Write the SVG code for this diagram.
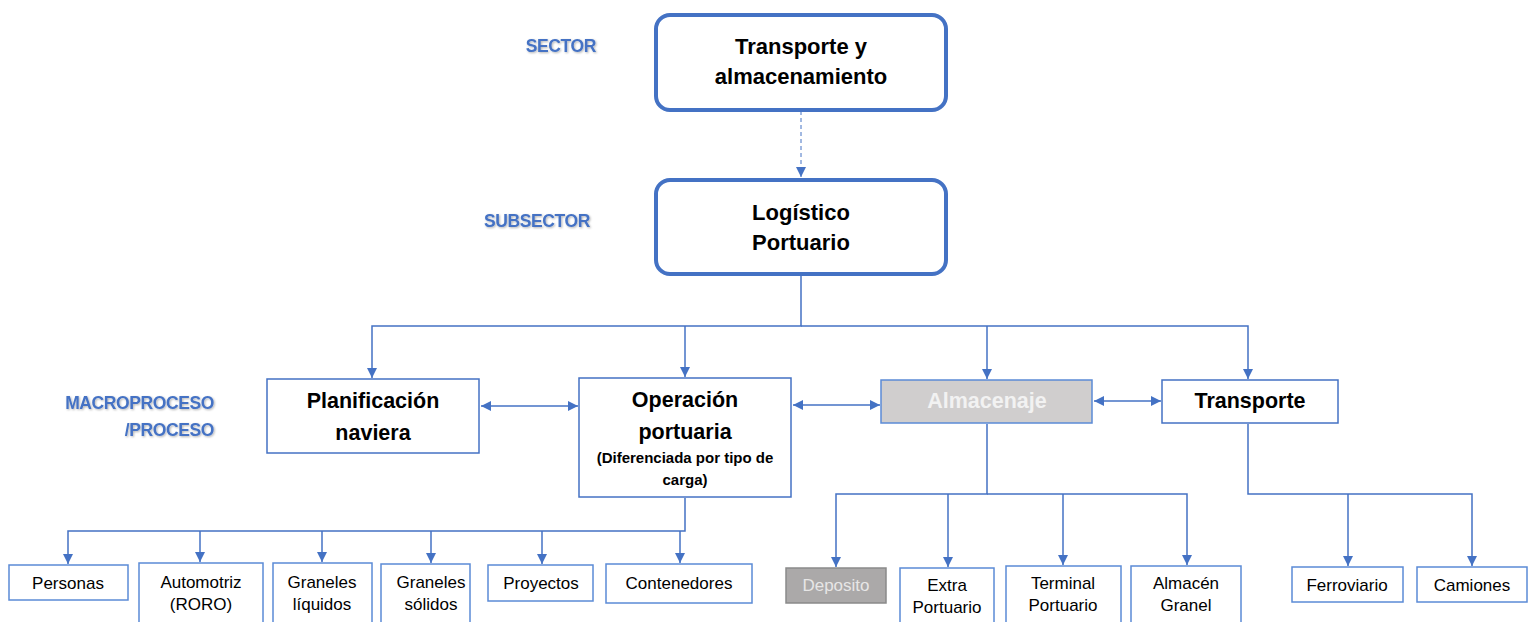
<svg xmlns="http://www.w3.org/2000/svg" width="1536" height="622" viewBox="0 0 1536 622">
<defs>
<marker id="arr" viewBox="0 0 10 10" refX="10" refY="5" markerWidth="10" markerHeight="10" markerUnits="userSpaceOnUse" orient="auto-start-reverse"><path d="M0,0 L10,5 L0,10 z" fill="#4472C4"/></marker>
<filter id="sh" x="-10%" y="-30%" width="130%" height="170%"><feDropShadow dx="1" dy="1" stdDeviation="0.8" flood-color="#000" flood-opacity="0.3"/></filter>
</defs>
<style>
.big{fill:#fff;stroke:#4472C4;stroke-width:4}
.box{fill:#fff;stroke:#4472C4;stroke-width:1.5}
.sbox{fill:#fff;stroke:#5B8BD6;stroke-width:1.5}
.t{font-family:"Liberation Sans",Arial,sans-serif;text-anchor:middle;dominant-baseline:central;fill:#000}
.b{font-weight:bold}
.h{font-size:22px}
.m{font-size:21.5px}
.s{font-size:15px}
.r{font-size:17px}
.lab{font-family:"Liberation Sans",Arial,sans-serif;font-weight:bold;font-size:17.5px;fill:#4472C4;text-anchor:end;dominant-baseline:central;letter-spacing:-0.4px;filter:url(#sh)}
.c{fill:none;stroke:#4472C4;stroke-width:1.5}
</style>
<g id="labels">
<text class="lab" x="596" y="46">SECTOR</text>
<text class="lab" x="590" y="221">SUBSECTOR</text>
<text class="lab" x="214" y="403">MACROPROCESO</text>
<text class="lab" x="214" y="430">/PROCESO</text>
</g>
<g id="connectors">
<path d="M801,111 V177" fill="none" stroke="#4472C4" stroke-width="1" stroke-dasharray="4,3" marker-end="url(#arr)"/>
<path class="c" d="M801,275 V326 H372 V378" marker-end="url(#arr)"/>
<path class="c" d="M685,326 V377" marker-end="url(#arr)"/>
<path class="c" d="M801,326 H1248 V379" marker-end="url(#arr)"/>
<path class="c" d="M987,326 V379" marker-end="url(#arr)"/>
<path class="c" d="M481,406 H578" marker-start="url(#arr)" marker-end="url(#arr)"/>
<path class="c" d="M793,405 H880" marker-start="url(#arr)" marker-end="url(#arr)"/>
<path class="c" d="M1094,401 H1161" marker-start="url(#arr)" marker-end="url(#arr)"/>
<path class="c" d="M685,498 V531 H68 V564" stroke-width="2" marker-end="url(#arr)"/>
<path class="c" d="M200,531 V562" marker-end="url(#arr)"/>
<path class="c" d="M322,531 V562" marker-end="url(#arr)"/>
<path class="c" d="M431,531 V563" marker-end="url(#arr)"/>
<path class="c" d="M542,531 V564" marker-end="url(#arr)"/>
<path class="c" d="M680,531 V563" marker-end="url(#arr)"/>
<path class="c" d="M987,424 V494 H836 V567" marker-end="url(#arr)"/>
<path class="c" d="M948,494 V567" marker-end="url(#arr)"/>
<path class="c" d="M987,494 H1187 V565" marker-end="url(#arr)"/>
<path class="c" d="M1063,494 V565" marker-end="url(#arr)"/>
<path class="c" d="M1248,424 V494 H1472 V566" marker-end="url(#arr)"/>
<path class="c" d="M1348,494 V566" marker-end="url(#arr)"/>
</g>
<g id="sector"><rect class="big" x="656" y="15" width="290" height="95" rx="14"/>
<text class="t b h" x="801" y="46">Transporte y</text><text class="t b h" x="801" y="76">almacenamiento</text></g>
<g id="subsector"><rect class="big" x="656" y="180" width="290" height="94" rx="14"/>
<text class="t b h" x="801" y="212">Logístico</text><text class="t b h" x="801" y="242">Portuario</text></g>
<g id="planificacion"><rect class="box" x="267" y="379" width="212" height="74"/>
<text class="t b m" x="373" y="401">Planificación</text><text class="t b m" x="373" y="433">naviera</text></g>
<g id="operacion"><rect class="box" x="579" y="378" width="212" height="119"/>
<text class="t b m" x="685" y="400">Operación</text><text class="t b m" x="685" y="432">portuaria</text>
<text class="t b s" x="685" y="457">(Diferenciada por tipo de</text><text class="t b s" x="685" y="479">carga)</text></g>
<g id="almacenaje"><rect x="881" y="380" width="211" height="43" fill="#D0CECE" stroke="#5B8BD6" stroke-width="1.5"/>
<text class="t b m" x="987" y="401" style="fill:#F2F2F2">Almacenaje</text></g>
<g id="transporte"><rect class="box" x="1162" y="380" width="176" height="43"/>
<text class="t b m" x="1250" y="401">Transporte</text></g>
<g id="personas"><rect class="sbox" x="9" y="565" width="119" height="35"/><text class="t r" x="68" y="583">Personas</text></g>
<g id="automotriz"><rect class="sbox" x="139" y="563" width="124" height="62"/><text class="t r" x="201" y="582">Automotriz</text><text class="t r" x="201" y="604">(RORO)</text></g>
<g id="liquidos"><rect class="sbox" x="273" y="563" width="99" height="62"/><text class="t r" x="322" y="582">Graneles</text><text class="t r" x="322" y="604">líquidos</text></g>
<g id="solidos"><rect class="sbox" x="381" y="564" width="89" height="61"/><text class="t r" x="431" y="582">Graneles</text><text class="t r" x="431" y="604">sólidos</text></g>
<g id="proyectos"><rect class="sbox" x="488" y="565" width="105" height="36"/><text class="t r" x="541" y="583">Proyectos</text></g>
<g id="contenedores"><rect class="sbox" x="606" y="564" width="146" height="39"/><text class="t r" x="679" y="583">Contenedores</text></g>
<g id="deposito"><rect x="786" y="568" width="100" height="35" fill="#ABA9A9" stroke="#8A8A8A" stroke-width="1.5"/><text class="t r" x="836" y="585" style="fill:#E7E6E6">Deposito</text></g>
<g id="extra"><rect class="sbox" x="900" y="568" width="94" height="57"/><text class="t r" x="947" y="585">Extra</text><text class="t r" x="947" y="607">Portuario</text></g>
<g id="terminal"><rect class="sbox" x="1006" y="566" width="115" height="59"/><text class="t r" x="1063" y="583">Terminal</text><text class="t r" x="1063" y="605">Portuario</text></g>
<g id="granel"><rect class="sbox" x="1131" y="566" width="110" height="59"/><text class="t r" x="1186" y="583">Almacén</text><text class="t r" x="1186" y="605">Granel</text></g>
<g id="ferroviario"><rect class="sbox" x="1292" y="567" width="111" height="35"/><text class="t r" x="1347" y="585">Ferroviario</text></g>
<g id="camiones"><rect class="sbox" x="1417" y="567" width="110" height="35"/><text class="t r" x="1472" y="585">Camiones</text></g>
</svg>
